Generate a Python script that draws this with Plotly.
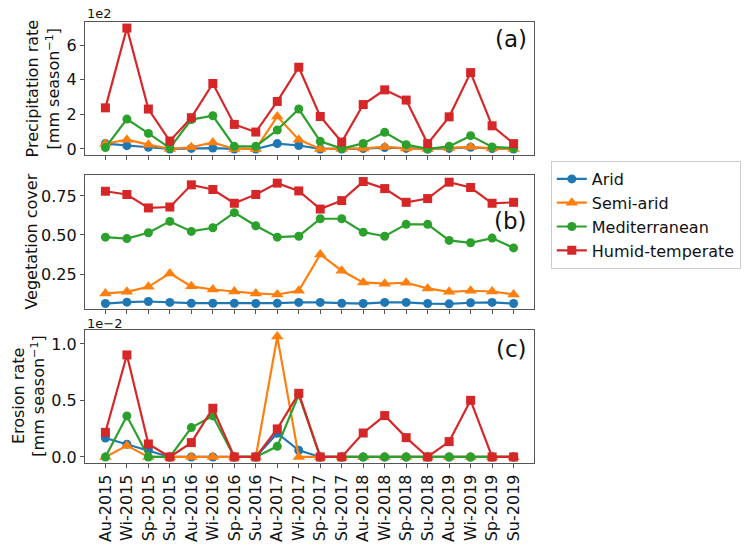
import plotly.graph_objects as go
from plotly.subplots import make_subplots

seasons = ["Au-2015", "Wi-2015", "Sp-2015", "Su-2015", "Au-2016", "Wi-2016", "Sp-2016", "Su-2016",
           "Au-2017", "Wi-2017", "Sp-2017", "Su-2017", "Au-2018", "Wi-2018", "Sp-2018", "Su-2018",
           "Au-2019", "Wi-2019", "Sp-2019", "Su-2019"]

# Precipitation rate [mm season^-1]
precip_arid = [31, 19, 10, 0, 3, 5, 0, 0, 31, 20, 0, 0, 2, 8, 3, 0, 3, 10, 2, 0]
precip_semiarid = [30, 54, 25, 0, 10, 38, 0, 0, 188, 54, 0, 0, 3, 12, 3, 0, 5, 12, 3, 0]
precip_med = [8, 173, 90, 5, 170, 192, 15, 15, 110, 231, 44, 2, 32, 96, 25, 0, 15, 77, 12, 5]
precip_humid = [238, 700, 231, 46, 181, 379, 142, 98, 275, 473, 188, 40, 257, 342, 283, 31, 186, 442, 134, 31]

# Vegetation cover
veg_arid = [0.061, 0.070, 0.074, 0.068, 0.063, 0.063, 0.063, 0.061, 0.063, 0.068, 0.068, 0.063, 0.061, 0.068,
            0.068, 0.061, 0.059, 0.066, 0.068, 0.061]
veg_semiarid = [0.126, 0.136, 0.168, 0.254, 0.171, 0.151, 0.138, 0.126, 0.119, 0.143, 0.375, 0.271, 0.196, 0.188,
                0.194, 0.158, 0.136, 0.143, 0.138, 0.119]
veg_med = [0.486, 0.477, 0.514, 0.587, 0.523, 0.546, 0.643, 0.559, 0.486, 0.492, 0.604, 0.604, 0.518, 0.492,
           0.568, 0.568, 0.465, 0.450, 0.480, 0.417]
veg_humid = [0.780, 0.759, 0.673, 0.679, 0.821, 0.791, 0.703, 0.759, 0.832, 0.782, 0.666, 0.720, 0.842, 0.797,
             0.709, 0.733, 0.838, 0.804, 0.703, 0.709]

# Erosion rate [mm season^-1]
ero_arid = [0.00168, 0.00112, 0.00062, 0, 0, 0, 0, 0, 0.0021, 0.00059, 0, 0, 0, 0, 0, 0, 0, 0, 0, 0]
ero_semiarid = [0, 0.0010, 0, 0, 0, 0, 0, 0, 0.01065, 0, 0, 0, 0, 0, 0, 0, 0, 0, 0, 0]
ero_med = [0, 0.00363, 0, 0, 0.0026, 0.00363, 0, 0, 0.00094, 0.0055, 0, 0, 0, 0, 0, 0, 0, 0, 0, 0]
ero_humid = [0.00218, 0.00903, 0.00115, 0, 0.00127, 0.00431, 0, 0, 0.00248, 0.00563, 0, 0, 0.00212, 0.00366,
             0.00171, 0, 0.00136, 0.00501, 0, 0]

names = ["Arid", "Semi-arid", "Mediterranean", "Humid-temperate"]
colors = ["#1f77b4", "#ff7f0e", "#2ca02c", "#d62728"]
symbols = ["circle", "triangle-up", "circle", "square"]
msizes = [9, 11, 9, 9]

panels = [
    [precip_arid, precip_semiarid, precip_med, precip_humid],
    [veg_arid, veg_semiarid, veg_med, veg_humid],
    [ero_arid, ero_semiarid, ero_med, ero_humid],
]

W, H = 753, 547
L, R, T, B = 85, 214, 22, 84
PH = H - T - B


def py(p):
    return (H - B - p) / PH


def px(p):
    return (p - L) / (W - L - R)


fig = make_subplots(rows=3, cols=1, shared_xaxes=False, vertical_spacing=0.05)

for r, series in enumerate(panels, start=1):
    for i, vals in enumerate(series):
        fig.add_trace(go.Scatter(
            x=seasons, y=vals, mode="lines+markers", name=names[i],
            line=dict(color=colors[i], width=2.2),
            marker=dict(color=colors[i], symbol=symbols[i], size=msizes[i], line=dict(width=0)),
            showlegend=(r == 1),
        ), row=r, col=1)

dom = {1: [py(155), 1.0], 2: [py(309), py(175)], 3: [0.0, py(330)]}
spine = "#555555"
tickfont = dict(family="DejaVu Sans", size=16, color="#111")

for r in (1, 2, 3):
    xa = "xaxis" if r == 1 else f"xaxis{r}"
    ya = "yaxis" if r == 1 else f"yaxis{r}"
    fig.layout[xa].update(
        type="category", range=[-0.95, 19.95], showgrid=False, zeroline=False,
        showline=True, mirror=True, linecolor=spine, linewidth=1.2,
        ticks="outside", ticklen=4, tickcolor=spine, tickwidth=1,
        showticklabels=(r == 3), tickangle=-90, tickfont=tickfont,
        automargin=False,
    )
    fig.layout[ya].update(
        domain=dom[r], showgrid=False, zeroline=False,
        showline=True, mirror=True, linecolor=spine, linewidth=1.2,
        ticks="outside", ticklen=4, tickcolor=spine, tickwidth=1,
        tickfont=tickfont, automargin=False,
    )

fig.update_yaxes(range=[-35, 735], tickvals=[0, 200, 400, 600], ticktext=["0", "2", "4", "6"], row=1, col=1)
fig.update_yaxes(range=[0.026, 0.884], tickvals=[0.25, 0.5, 0.75], ticktext=["0.25", "0.50", "0.75"], row=2, col=1)
fig.update_yaxes(range=[-0.000535, 0.011235], tickvals=[0, 0.005, 0.01], ticktext=["0.0", "0.5", "1.0"], row=3, col=1)

font = "DejaVu Sans"
ann = [
    dict(text="(a)", x=px(534), y=py(39), xanchor="right", yanchor="middle", font=dict(size=23)),
    dict(text="(b)", x=px(534), y=py(221), xanchor="right", yanchor="middle", font=dict(size=23)),
    dict(text="(c)", x=px(534), y=py(349), xanchor="right", yanchor="middle", font=dict(size=23)),
    dict(text="1e2", x=px(85), y=py(14), xanchor="left", yanchor="middle", font=dict(size=13)),
    dict(text="1e\u22122", x=px(85), y=py(323), xanchor="left", yanchor="middle", font=dict(size=13)),
    dict(text="Precipitation rate<br>[mm season<sup>\u22121</sup>]", x=px(43), y=py(88), textangle=-90,
         xanchor="center", yanchor="middle", font=dict(size=16)),
    dict(text="Vegetation cover", x=px(30), y=py(242), textangle=-90,
         xanchor="center", yanchor="middle", font=dict(size=16)),
    dict(text="Erosion rate<br>[mm season<sup>\u22121</sup>]", x=px(28), y=py(396), textangle=-90,
         xanchor="center", yanchor="middle", font=dict(size=16)),
]
for a in ann:
    a.update(xref="paper", yref="paper", showarrow=False)
    a["font"].update(family=font, color="#111")

fig.update_layout(
    width=W, height=H,
    margin=dict(l=L, r=R, t=T, b=B),
    paper_bgcolor="white", plot_bgcolor="white",
    font=dict(family=font, size=16, color="#111"),
    annotations=ann,
    legend=dict(x=px(556), y=py(161), xanchor="left", yanchor="top",
                bordercolor="#cccccc", borderwidth=1, bgcolor="white",
                font=dict(family=font, size=16, color="#111"),
                tracegroupgap=0, itemwidth=30),
    showlegend=True,
)

fig.write_html("out.html", config={"displayModeBar": False},
               post_script="document.body.style.margin='0';")
